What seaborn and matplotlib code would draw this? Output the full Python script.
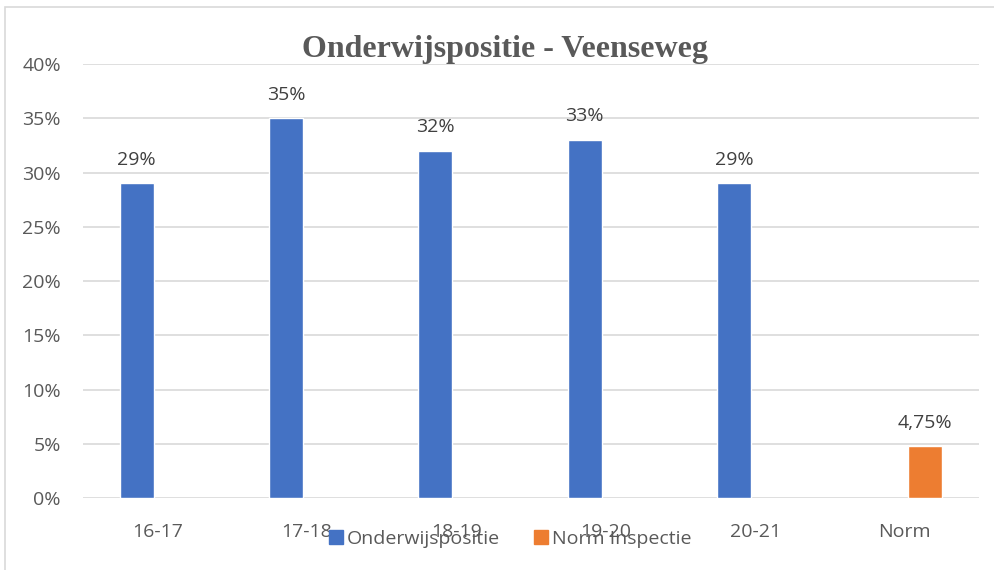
import pandas as pd
import numpy as np
import seaborn as sns
import matplotlib.pyplot as plt
from matplotlib.patches import Rectangle
from matplotlib.lines import Line2D

# data
jaren = ["16-17", "17-18", "18-19", "19-20", "20-21", "Norm"]
onderwijspositie = [29, 35, 32, 33, 29, np.nan]
norm_inspectie = [np.nan, np.nan, np.nan, np.nan, np.nan, 4.75]

tabela = pd.DataFrame({
    "jaar": jaren * 2,
    "waarde": onderwijspositie + norm_inspectie,
    "reeks": ["Onderwijspositie"] * 6 + ["Norm Inspectie"] * 6,
})
tabela = tabela.dropna()

sns.set_style("white")
plt.rcParams["font.family"] = ["Open Sans", "DejaVu Sans"]

blauw = "#4472C4"
oranje = "#ED7D31"
grijs = "#595959"

fig = plt.figure(figsize=(9.94, 5.7), dpi=100)
ax = fig.add_axes([0.0835, 0.1263, 0.9015, 0.7614])

sns.barplot(data=tabela, x="jaar", y="waarde", hue="reeks", order=jaren,
            hue_order=["Onderwijspositie", "Norm Inspectie"],
            palette=[blauw, oranje], width=0.5625, gap=0.19, dodge=True,
            saturation=1, legend=False, ax=ax)

for cont in ax.containers:
    labs = [f"{v:g}%".replace(".", ",") for v in cont.datavalues]
    ax.bar_label(cont, labels=labs, padding=10.5, fontsize=14, color="#404040")

ax.set_ylim(0, 40)
ax.set_yticks(range(0, 41, 5))
ax.set_yticklabels([f"{v}%" for v in range(0, 41, 5)])
ax.set_xlim(-0.5, 5.5)
ax.grid(axis="y", color="#d9d9d9", linewidth=1.2)
ax.set_axisbelow(True)
for s in ax.spines.values():
    s.set_visible(False)
ax.tick_params(axis="both", length=0, labelsize=14, labelcolor=grijs)
ax.tick_params(axis="x", pad=18)
ax.tick_params(axis="y", pad=16)
ax.set_xlabel("")
ax.set_ylabel("")

fig.text(0.508, 0.9, "Onderwijspositie - Veenseweg", ha="center", va="baseline",
         fontsize=23, fontweight="bold", family="Liberation Serif", color=grijs)

# rand om de grafiek
fig.add_artist(Rectangle((0.005, -0.01), 1.1, 0.998, transform=fig.transFigure,
                         fill=False, edgecolor="#d9d9d9", linewidth=1.2))

handles = [Line2D([], [], marker="s", linestyle="", markersize=10, color=blauw),
           Line2D([], [], marker="s", linestyle="", markersize=10, color=oranje)]
fig.legend(handles, ["Onderwijspositie", "Norm Inspectie"], loc="center",
           bbox_to_anchor=(0.512, 0.055), ncol=2, frameon=False, fontsize=14,
           labelcolor=grijs, handletextpad=0.05, columnspacing=1.6,
           handlelength=1.0)

plt.savefig("out.png", dpi=100)
